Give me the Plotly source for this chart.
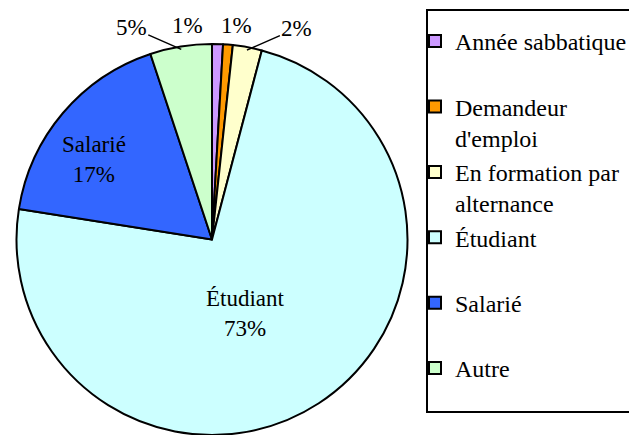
import math
import plotly.graph_objects as go

categories = ["Année sabbatique", "Demandeur d'emploi", "En formation par alternance",
              "Étudiant", "Salarié", "Autre"]
legend_labels = ["Année sabbatique<br> ", "Demandeur<br>d'emploi", "En formation par<br>alternance",
                 "Étudiant<br> ", "Salarié<br> ", "Autre<br> "]
values = [0.9, 0.8, 2.4, 73.4, 17.4, 5.1]
colors = ["#CC99FF", "#FF9900", "#FFFFCC", "#CCFFFF", "#3366FF", "#CCFFCC"]
inside_names = ["", "", "", "Étudiant", "Salarié", ""]

FONT = "Times New Roman, Liberation Serif, serif"
W, H = 629, 435
DOM_X = [16 / W, 408 / W]
DOM_Y = [0, 1 - 44 / H]

fig = go.Figure(go.Pie(
    labels=legend_labels,
    values=values,
    textinfo="none",
    sort=False,
    direction="clockwise",
    rotation=0,
    marker=dict(colors=colors, line=dict(color="black", width=2)),
    domain=dict(x=DOM_X, y=DOM_Y),
    hoverinfo="label+percent",
))

# data labels, anchored at each slice's mid-angle (computed from the data)
total = sum(values)
cx_px = W * (DOM_X[0] + DOM_X[1]) / 2
cy_px = H * (1 - (DOM_Y[0] + DOM_Y[1]) / 2)
r_px = min(W * (DOM_X[1] - DOM_X[0]), H * (DOM_Y[1] - DOM_Y[0])) / 2

# label style per slice: (kind, radius fraction, dx, dy) in pixels
label_style = {
    0: ("plain", 1.0, -30, -19),
    1: ("plain", 1.0, 9, -19),
    2: ("leader", 0.985, 50, -22),
    3: ("plain", 0.5, -20, -8),
    4: ("plain", 0.6, -29, -4),
    5: ("leader", 0.985, -50, -22),
}

annotations = []
cum = 0.0
for i, v in enumerate(values):
    mid = (cum + v / 2) / total * 2 * math.pi
    cum += v
    kind, frac, dx, dy = label_style[i]
    rr = r_px * frac
    px = cx_px + rr * math.sin(mid)
    py = cy_px - rr * math.cos(mid)
    pct = f"{round(v / total * 100):.0f}%"
    text = pct if inside_names[i] == "" else f"{inside_names[i]}<br>{pct}"
    if kind == "leader":
        annotations.append(dict(
            x=px / W, y=1 - py / H, xref="paper", yref="paper",
            text=text, showarrow=True, arrowhead=0, arrowwidth=1.5, arrowcolor="black",
            ax=dx, ay=dy, standoff=0, startstandoff=0,
            font=dict(family=FONT, size=23, color="black"),
        ))
    else:
        annotations.append(dict(
            x=px / W, y=1 - py / H, xref="paper", yref="paper",
            text=text, showarrow=False, xshift=dx, yshift=-dy,
            xanchor="center", yanchor="middle",
            font=dict(family=FONT, size=23, color="black"),
        ))

fig.update_layout(
    width=W, height=H,
    margin=dict(l=0, r=0, t=0, b=0, autoexpand=False),
    paper_bgcolor="white",
    plot_bgcolor="white",
    font=dict(family=FONT, size=24, color="black"),
    showlegend=True,
    legend=dict(
        x=415 / W, xanchor="left",
        y=1 - 19 / H, yanchor="top",
        valign="top",
        bgcolor="rgba(0,0,0,0)",
        borderwidth=0,
        font=dict(family=FONT, size=24, color="black"),
        traceorder="normal",
    ),
    shapes=[dict(type="rect", xref="paper", yref="paper",
                 x0=427 / W, x1=1.05, y0=1 - 412 / H, y1=1 - 10 / H,
                 line=dict(color="black", width=2), fillcolor="rgba(0,0,0,0)", layer="below")],
    annotations=annotations,
)

fig.write_html("out.html", config={"displayModeBar": False},
               post_script="document.body.style.margin='0';")
